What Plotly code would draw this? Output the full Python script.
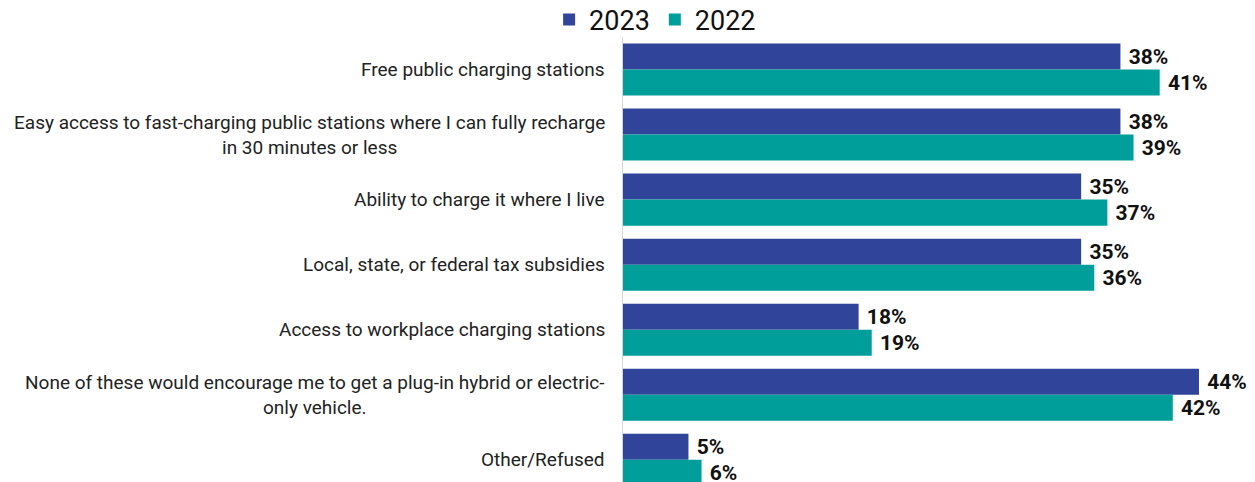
import plotly.graph_objects as go

categories = [
    "Free public charging stations",
    "Easy access to fast-charging public stations where I can fully recharge<br>in 30 minutes or less",
    "Ability to charge it where I live",
    "Local, state, or federal tax subsidies",
    "Access to workplace charging stations",
    "None of these would encourage me to get a plug-in hybrid or electric-<br>only vehicle.",
    "Other/Refused",
]
values_2023 = [38, 38, 35, 35, 18, 44, 5]
values_2022 = [41, 39, 37, 36, 19, 42, 6]

BLUE = "#30459A"
TEAL = "#009E9A"
FONT = "Roboto"

fig = go.Figure()
for name, vals, col in [("2023", values_2023, BLUE), ("2022", values_2022, TEAL)]:
    fig.add_trace(go.Bar(
        y=categories, x=vals, name=name, orientation="h",
        marker=dict(color=col, line=dict(width=0)),
        text=[f" {v}%" for v in vals], textposition="outside",
        textfont=dict(family=FONT, size=21, color="#111111", weight="bold"),
        cliponaxis=False,
    ))

for c in categories:
    fig.add_annotation(
        xref="paper", yref="y", x=0, y=c, text=c, showarrow=False,
        xanchor="right", yanchor="middle", align="center", xshift=-16,
        font=dict(family=FONT, size=19, color="#222222"),
    )

fig.update_layout(
    width=1255, height=482,
    margin=dict(l=623, r=0, t=37, b=0, autoexpand=False),
    paper_bgcolor="white", plot_bgcolor="white",
    barmode="group", bargap=0.2, bargroupgap=0,
    showlegend=True,
    legend=dict(
        orientation="h", xref="container", yref="container",
        x=0.522, y=1 - 20 / 482, xanchor="center", yanchor="middle",
        font=dict(family=FONT, size=27, color="#111111"),
        bgcolor="rgba(0,0,0,0)",
        traceorder="normal", itemwidth=30, tracegroupgap=0,
    ),
    xaxis=dict(range=[0, 48.28], visible=False, showgrid=False, zeroline=False),
    yaxis=dict(
        range=[6.341, -0.5], showticklabels=False, ticks="",
        showgrid=False, zeroline=False,
        showline=True, linecolor="#d6d6d6", linewidth=1,
    ),
)

fig.write_html("out.html")
